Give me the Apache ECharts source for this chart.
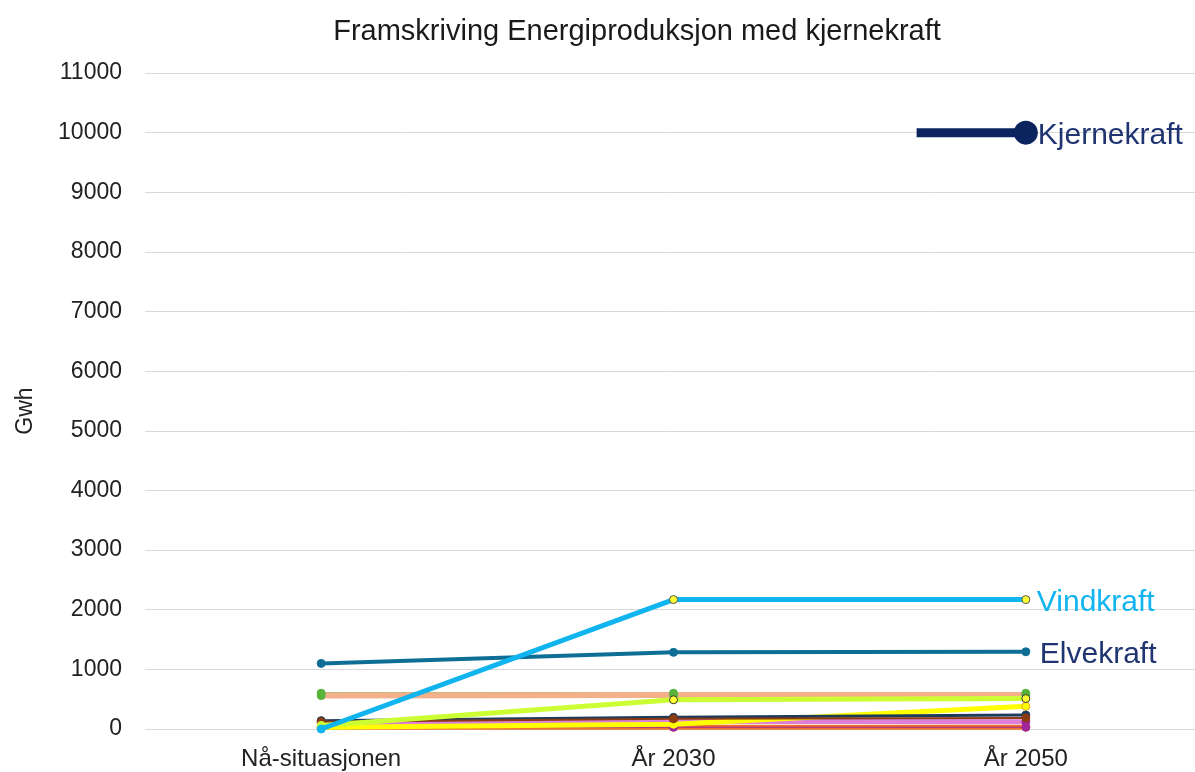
<!DOCTYPE html>
<html>
<head>
<meta charset="utf-8">
<script src="https://cdn.jsdelivr.net/npm/echarts@6/dist/echarts.min.js"></script>
<style>
  html, body { margin: 0; padding: 0; background: #fff; }
  #chart { width: 1195px; height: 772px; }
</style>
</head>
<body>
<div id="chart"></div>
<script>
// categories and values
const categories = ["Nå-situasjonen", "År 2030", "År 2050"];
const yTicks = [0, 1000, 2000, 3000, 4000, 5000, 6000, 7000, 8000, 9000, 10000, 11000];

const vindkraft = [0, 2170, 2170];
const elvekraft = [1100, 1285, 1295];
const salmonSeries = [560, 570, 570];
const greenSeries = [600, 600, 600];
const limeSeries = [60, 490, 510];
const yellowSeries = [30, 80, 380];
const navySeries = [140, 195, 235];
const brownSeries = [120, 170, 185];
const pinkSeries = [100, 130, 120];
const purpleSeries = [20, 30, 30];
const orangeSeries = [30, 30, 30];
// Kjernekraft: only in 2050, drawn as a short stub ending at the 2050 point
const kjernekraftX = [1.69, 2];
const kjernekraftY = [10000, 10000];

const font = "Liberation Sans, Arial, sans-serif";

function lineSerie(name, data, color, width, markerFill, markerBorder, z) {
  return {
    name: name,
    type: "line",
    data: data.map((v, i) => ({
      value: v,
      itemStyle: {
        color: markerFill[i] || color,
        borderColor: markerBorder[i] || markerFill[i] || color,
        borderWidth: 1,
      },
    })),
    lineStyle: { color: color, width: width },
    itemStyle: { color: color },
    symbol: "circle",
    symbolSize: 8,
    z: z,
    animation: false,
  };
}

function endLabel(text, color, dx) {
  return {
    show: true,
    formatter: text,
    color: color,
    fontSize: 30,
    offset: [dx, 3],
    fontFamily: font,
  };
}

const chart = echarts.init(document.getElementById("chart"));

const chartOptions = {
  backgroundColor: "#fff",
  textStyle: { fontFamily: font },
  title: {
    text: "Framskriving Energiproduksjon med kjernekraft",
    left: 632,
    textAlign: "center",
    top: 12,
    textStyle: { fontSize: 29, fontWeight: "normal", color: "#1a1a1a", fontFamily: font },
  },
  grid: { left: 145, width: 1057, top: 73, height: 656, outerBoundsMode: "none" },
  xAxis: [
    {
      type: "category",
      data: categories,
      boundaryGap: true,
      axisLine: { show: false },
      axisTick: { show: false },
      axisLabel: { fontSize: 24, color: "#222", margin: 18, fontFamily: font },
    },
    {
      type: "value",
      min: -0.5,
      max: 2.5,
      show: false,
    },
  ],
  yAxis: {
    type: "value",
    min: yTicks[0],
    max: yTicks[yTicks.length - 1],
    interval: 1000,
    name: "Gwh",
    nameLocation: "middle",
    nameRotate: 90,
    nameGap: 108,
    nameTextStyle: { fontSize: 23, color: "#222", fontFamily: font, padding: [0, 0, 0, -20] },
    axisLine: { show: false },
    axisTick: { show: false },
    axisLabel: {
      fontSize: 23,
      color: "#222",
      margin: 23,
      fontFamily: font,
      formatter: (v) => String(v),
    },
    splitLine: { lineStyle: { color: "#d9d9d9", width: 1 } },
  },
  series: [
    lineSerie("Oransje", orangeSeries, "#EE6F2D", 5, [], [], 2),
    lineSerie("Lilla", purpleSeries, "#A0279A", 1, ["#A0279A", "#A0279A", "#A0279A"], [], 3),
    lineSerie("Rosa", pinkSeries, "#DD7FD6", 5, ["#8B3A12", "#A0279A", "#A0279A"], [], 3),
    lineSerie("Gul", yellowSeries, "#FFFF00", 5, ["#FFFF00", "#FFFF00", "#FFFF00"], [null, null, "#F0A030"], 4),
    lineSerie("Mørkeblå", navySeries, "#1E3A5A", 3, ["#1E3A5A", "#1E3A5A", "#1E3A5A"], [], 5),
    lineSerie("Brun", brownSeries, "#8B3A12", 2, ["#8B3A12", "#8B3A12", "#8B3A12"], [], 6),
    lineSerie("Lime", limeSeries, "#CCFF33", 5, ["#CCFF33", "#FFFF33", "#FFFF33"], [null, "#333", "#333"], 7),
    lineSerie("Grønn", greenSeries, "#58B33A", 2, ["#58B33A", "#58B33A", "#58B33A"], [], 6),
    lineSerie("Laks", salmonSeries, "#F4B08A", 6, ["#58B33A", "#58B33A", "#58B33A"], [], 6),
    {
      ...lineSerie("Elvekraft", elvekraft, "#0E6E96", 4, ["#0E6E96", "#0E6E96", "#0E6E96"], [], 9),
      endLabel: endLabel("Elvekraft", "#1F3470", 6),
    },
    {
      ...lineSerie("Vindkraft", vindkraft, "#10B4EE", 5, ["#10B4EE", "#FFFF33", "#FFFF33"], [null, "#555", "#555"], 10),
      endLabel: endLabel("Vindkraft", "#10B4EE", 3),
    },
    {
      name: "Kjernekraft",
      type: "line",
      xAxisIndex: 1,
      data: kjernekraftX.map((x, i) => ({
        value: [x, kjernekraftY[i]],
        symbol: i === kjernekraftX.length - 1 ? "circle" : "none",
      })),
      symbolSize: 24,
      lineStyle: { color: "#0B2460", width: 9 },
      itemStyle: { color: "#0B2460" },
      endLabel: endLabel("Kjernekraft", "#1F3470", 4),
      z: 11,
      animation: false,
    },
  ],
};

chart.setOption(chartOptions);
</script>
</body>
</html>
